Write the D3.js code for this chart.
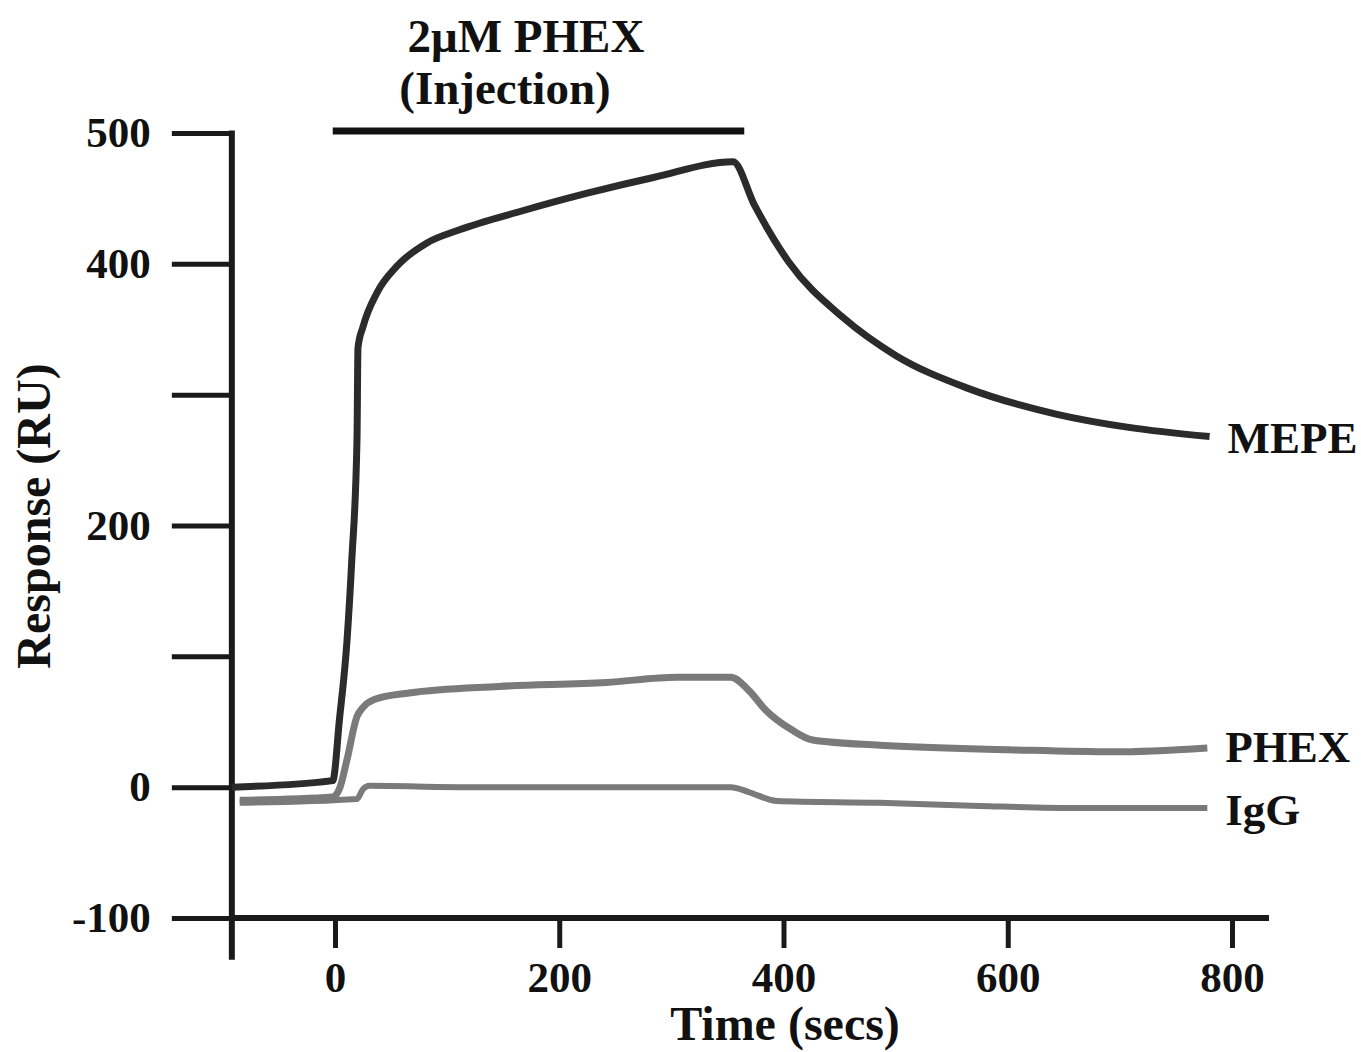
<!DOCTYPE html>
<html>
<head>
<meta charset="utf-8">
<script src="https://cdn.jsdelivr.net/npm/d3@7"></script>
<style>
  html, body { margin: 0; padding: 0; background: #fff; }
  svg text { font-family: "Liberation Serif", "Times New Roman", serif; font-weight: bold; fill: #111; }
</style>
</head>
<body>
<svg id="chart" width="1361" height="1052"></svg>
<script>
// time (s) / response (RU)
const mepeTime = [-92, -2, 4, 10.7, 15, 19.6, 20.5, 25, 37.5, 55, 82, 111, 165, 225, 284, 355, 374, 405, 453, 500, 564, 644, 708, 780];
const mepeResp = [0, 5, 52, 112, 174, 265, 336, 352, 378, 398, 416, 426, 440, 454, 466, 478, 445, 401, 359, 330, 305, 285, 275, 268];

const phexTime = [-85, -2, 4.5, 10.7, 19.6, 25, 35, 66, 146, 242, 305, 353, 369, 384, 407, 426, 486, 605, 694, 778];
const phexResp = [-10, -7.5, 0, 21, 54, 61, 67, 72, 77, 80, 84, 84, 74, 59, 44, 36, 32, 28.5, 27, 30];

const iggTime = [-85, 19.6, 25, 31, 114, 353, 369, 394, 486, 575, 664, 778];
const iggResp = [-12, -9, -1.5, 1, 0, 0, -3.7, -10.6, -12, -14.4, -16, -16];

const seriesNames = ['PHEX', 'IgG', 'MEPE'];
const xTicks = [0, 200, 400, 600, 800];
const yTicks = [-100, 0, 100, 200, 300, 400, 500];
const yLabelled = [-100, 0, 200, 400, 500];
const injection = [-2, 365];

const svg = d3.select('#chart');
const x = d3.scaleLinear().domain([0, 800]).range([335, 1232]);
const y = d3.scaleLinear().domain([-100, 500]).range([918, 133]);

const zip = (t, v) => t.map((d, i) => ({ t: d, v: v[i] }));
const series = {
  MEPE: { data: zip(mepeTime, mepeResp), color: '#2b2b2b', width: 7, labelDy: 16 },
  PHEX: { data: zip(phexTime, phexResp), color: '#7a7a7a', width: 7, labelDy: 14 },
  IgG:  { data: zip(iggTime, iggResp), color: '#7a7a7a', width: 6, labelDy: 17 }
};

// axes
const yAxis = d3.axisLeft(y).tickValues(yTicks).tickSize(60).tickPadding(21)
  .tickFormat(d => yLabelled.includes(d) ? d : '');
const gy = svg.append('g').attr('transform', `translate(${x(-92)},0)`).call(yAxis);
gy.select('.domain').remove();
gy.selectAll('.tick line').attr('stroke', '#1a1a1a').attr('stroke-width', 5);
gy.selectAll('.tick text').style('font-size', '43px');

const xAxis = d3.axisBottom(x).tickValues(xTicks).tickSize(30).tickPadding(13);
const gx = svg.append('g').attr('transform', `translate(0,${y(-100)})`).call(xAxis);
gx.select('.domain').remove();
gx.selectAll('.tick line').attr('stroke', '#1a1a1a').attr('stroke-width', 5);
gx.selectAll('.tick text').style('font-size', '43px');

// axis lines (y axis runs past the x axis like a tick)
svg.append('line')
  .attr('x1', x(-92)).attr('x2', x(-92))
  .attr('y1', y(502)).attr('y2', y(-132))
  .attr('stroke', '#1a1a1a').attr('stroke-width', 6);
svg.append('line')
  .attr('x1', x(-92)).attr('x2', x(833))
  .attr('y1', y(-100)).attr('y2', y(-100))
  .attr('stroke', '#1a1a1a').attr('stroke-width', 6);

// curves
const line = d3.line().x(d => x(d.t)).y(d => y(d.v)).curve(d3.curveMonotoneX);
seriesNames.forEach(name => {
  const s = series[name];
  svg.append('path').datum(s.data)
    .attr('d', line)
    .attr('fill', 'none')
    .attr('stroke', s.color)
    .attr('stroke-width', s.width)
    .attr('stroke-linejoin', 'round');
  const last = s.data[s.data.length - 1];
  svg.append('text')
    .attr('x', x(last.t) + 18).attr('y', y(last.v) + s.labelDy)
    .style('font-size', '45px')
    .text(name);
});

// injection bar
svg.append('line')
  .attr('x1', x(injection[0])).attr('x2', x(injection[1]))
  .attr('y1', 131).attr('y2', 131)
  .attr('stroke', '#111').attr('stroke-width', 7);
svg.append('text').attr('x', 526).attr('y', 52).attr('text-anchor', 'middle')
  .style('font-size', '47px').text('2μM PHEX');
svg.append('text').attr('x', 505).attr('y', 104).attr('text-anchor', 'middle')
  .style('font-size', '47px').text('(Injection)');

// axis titles
svg.append('text').attr('x', 785).attr('y', 1040).attr('text-anchor', 'middle')
  .style('font-size', '48px').text('Time (secs)');
svg.append('text')
  .attr('transform', 'translate(50,516) rotate(-90)')
  .attr('text-anchor', 'middle')
  .style('font-size', '48px').text('Response (RU)');
</script>
</body>
</html>
